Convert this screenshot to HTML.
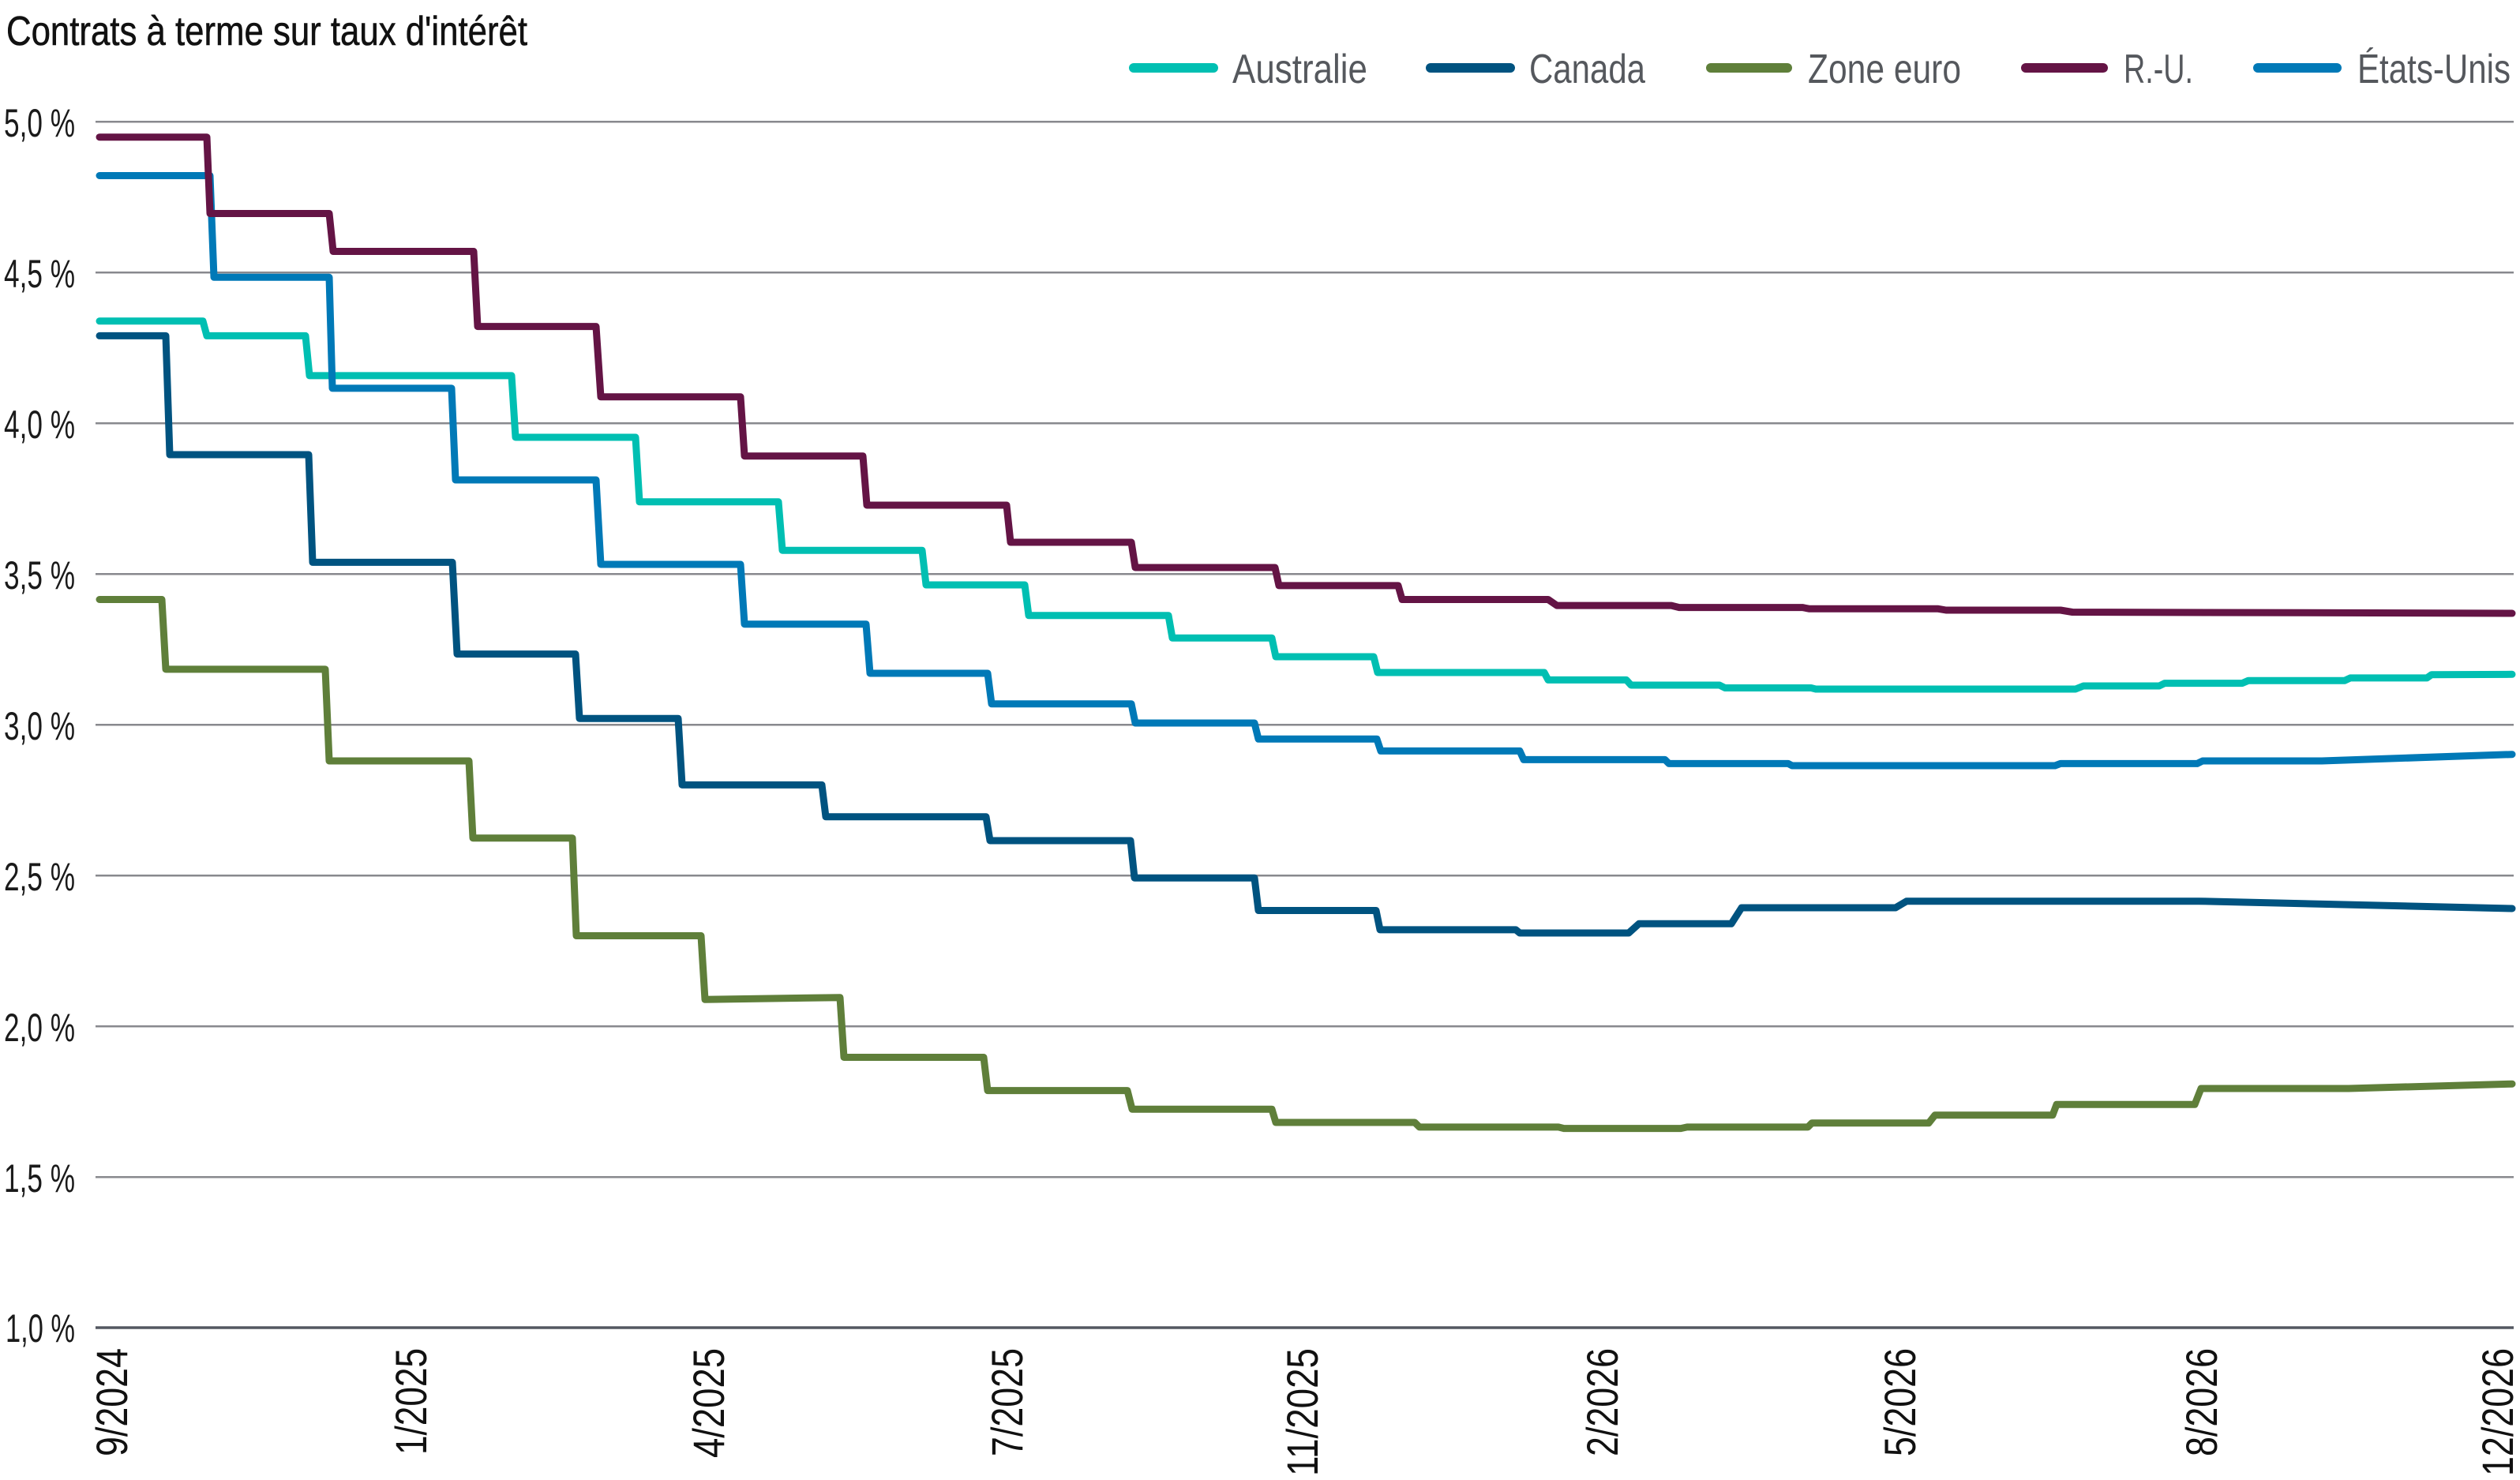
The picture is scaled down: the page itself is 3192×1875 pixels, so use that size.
<!DOCTYPE html>
<html>
<head>
<meta charset="utf-8">
<style>
html,body{margin:0;padding:0;background:#fff;}
svg{display:block;}
text{font-family:"Liberation Sans Narrow","Liberation Sans",Arial,sans-serif;}
</style>
</head>
<body>
<svg width="3192" height="1875" viewBox="0 0 3192 1875" xmlns="http://www.w3.org/2000/svg">
<rect width="3192" height="1875" fill="#fff"/>

<!-- Title -->
<text x="8" y="57" font-size="52" fill="#111" stroke="#111" stroke-width="0.6" textLength="660" lengthAdjust="spacingAndGlyphs">Contrats à terme sur taux d'intérêt</text>

<!-- Legend -->
<g stroke-linecap="round" stroke-width="12" fill="none">
<line x1="1436" y1="86" x2="1537" y2="86" stroke="#00bfb2"/>
<line x1="1812" y1="86" x2="1913" y2="86" stroke="#005380"/>
<line x1="2167" y1="86" x2="2264" y2="86" stroke="#5f7f3a"/>
<line x1="2566" y1="86" x2="2664" y2="86" stroke="#641445"/>
<line x1="2860" y1="86" x2="2960" y2="86" stroke="#0079b7"/>
</g>
<g font-size="52" fill="#55585d">
<text x="1561" y="105" textLength="171" lengthAdjust="spacingAndGlyphs">Australie</text>
<text x="1937" y="105" textLength="147" lengthAdjust="spacingAndGlyphs">Canada</text>
<text x="2290" y="105" textLength="194" lengthAdjust="spacingAndGlyphs">Zone euro</text>
<text x="2690" y="105" textLength="88" lengthAdjust="spacingAndGlyphs">R.-U.</text>
<text x="2986" y="105" textLength="194" lengthAdjust="spacingAndGlyphs">États-Unis</text>
</g>

<!-- Gridlines -->
<g stroke="#88898e" stroke-width="2.5">
<line x1="121" y1="154.3" x2="3184" y2="154.3"/>
<line x1="121" y1="345.3" x2="3184" y2="345.3"/>
<line x1="121" y1="536.3" x2="3184" y2="536.3"/>
<line x1="121" y1="727.3" x2="3184" y2="727.3"/>
<line x1="121" y1="918.3" x2="3184" y2="918.3"/>
<line x1="121" y1="1109.3" x2="3184" y2="1109.3"/>
<line x1="121" y1="1300.3" x2="3184" y2="1300.3"/>
<line x1="121" y1="1491.3" x2="3184" y2="1491.3"/>
</g>
<line x1="121" y1="1682" x2="3184" y2="1682" stroke="#545861" stroke-width="3.5"/>

<!-- Y labels -->
<g font-size="50" fill="#1a1a1a" text-anchor="end">
<text x="95" y="173" textLength="90" lengthAdjust="spacingAndGlyphs">5,0 %</text>
<text x="95" y="364" textLength="90" lengthAdjust="spacingAndGlyphs">4,5 %</text>
<text x="95" y="555" textLength="90" lengthAdjust="spacingAndGlyphs">4,0 %</text>
<text x="95" y="746" textLength="90" lengthAdjust="spacingAndGlyphs">3,5 %</text>
<text x="95" y="937" textLength="90" lengthAdjust="spacingAndGlyphs">3,0 %</text>
<text x="95" y="1128" textLength="90" lengthAdjust="spacingAndGlyphs">2,5 %</text>
<text x="95" y="1319" textLength="90" lengthAdjust="spacingAndGlyphs">2,0 %</text>
<text x="95" y="1510" textLength="90" lengthAdjust="spacingAndGlyphs">1,5 %</text>
<text x="95" y="1700" textLength="88" lengthAdjust="spacingAndGlyphs">1,0 %</text>
</g>

<!-- X labels (rotated) -->
<g font-size="56" fill="#111" text-anchor="end">
<text transform="translate(161,1708) rotate(-90)" textLength="137" lengthAdjust="spacingAndGlyphs">9/2024</text>
<text transform="translate(540,1708) rotate(-90)" textLength="135" lengthAdjust="spacingAndGlyphs">1/2025</text>
<text transform="translate(917,1708) rotate(-90)" textLength="139" lengthAdjust="spacingAndGlyphs">4/2025</text>
<text transform="translate(1295,1708) rotate(-90)" textLength="137" lengthAdjust="spacingAndGlyphs">7/2025</text>
<text transform="translate(1669,1708) rotate(-90)" textLength="162" lengthAdjust="spacingAndGlyphs">11/2025</text>
<text transform="translate(2049,1708) rotate(-90)" textLength="137" lengthAdjust="spacingAndGlyphs">2/2026</text>
<text transform="translate(2426,1708) rotate(-90)" textLength="137" lengthAdjust="spacingAndGlyphs">5/2026</text>
<text transform="translate(2808,1708) rotate(-90)" textLength="137" lengthAdjust="spacingAndGlyphs">8/2026</text>
<text transform="translate(3183,1708) rotate(-90)" textLength="162" lengthAdjust="spacingAndGlyphs">12/2026</text>
</g>

<!-- Series -->
<g fill="none" stroke-width="9" stroke-linecap="round" stroke-linejoin="round">
<!-- Zone euro -->
<path stroke="#5f7f3a" d="M126,759.5 H205 L210,847.9 H412 L417,964 H594 L599,1061.7 H725 L730,1185.5 H888 L893,1266.3 L1064,1263.7 L1069,1339.5 H1246 L1251,1381.6 H1428 L1434,1405.2 H1611 L1616,1422 H1792 L1798,1427.9 H1974 L1981,1429.6 H2129 L2137,1427.9 H2290 L2295,1422.8 H2443 L2451,1412.7 H2600 L2605,1399.3 H2780 L2788,1379 H2975 L3182,1373.2"/>
<!-- Canada -->
<path stroke="#005380" d="M126,425.4 H210 L215,576 H391 L396,712.4 H573 L579,828.6 H729 L734,910.2 H859 L864,994.4 H1041 L1046,1034.8 H1249 L1254,1065 H1432 L1437,1112.2 H1589 L1594,1153.5 H1743 L1748,1177.9 H1920 L1925,1182 H2063 L2076,1170.3 H2193 L2206,1150 H2401 L2415,1141.7 H2785 L3182,1151"/>
<!-- Australie -->
<path stroke="#00bfb2" d="M126,406.8 H257 L262,425.4 H387 L392,475.9 H648 L653,554 H805 L810,635.8 H986 L991,697.2 H1168 L1173,741 H1298 L1303,779.7 H1480 L1485,808.3 H1611 L1616,832 H1740 L1745,852 H1956 L1961,861.4 H2060 L2066,868 H2178 L2185,871.5 H2294 L2300,873 H2629 L2639,869 H2735 L2742,865.6 H2840 L2848,862.2 H2970 L2977,858.9 H3074 L3080,854.7 L3182,854.3"/>
<!-- États-Unis -->
<path stroke="#0079b7" d="M126,222.5 H266 L271,351.3 H417 L421,491.9 H572 L577,608 H755 L761,715 H938 L943,790.7 H1097 L1102,853 H1251 L1256,891.7 H1433 L1438,916 H1589 L1594,936.3 H1744 L1749,951.4 H1925 L1930,962.4 H2109 L2114,967.4 H2265 L2270,970 H2603 L2610,967.4 H2783 L2790,964 H2941 L3182,955.7"/>
<!-- R.-U. -->
<path stroke="#641445" d="M126,173.7 H262 L266,270.5 H417 L422,318.5 H600 L605,413.6 H755 L761,502.8 H938 L943,577.7 H1093 L1098,640 H1275 L1280,687 H1433 L1438,719 H1615 L1620,741.9 H1771 L1776,759.5 H1961 L1972,767.1 H2117 L2127,769.6 H2283 L2292,771.3 H2455 L2465,773 H2610 L2625,775.5 L3182,777"/>
</g>
</svg>
</body>
</html>
